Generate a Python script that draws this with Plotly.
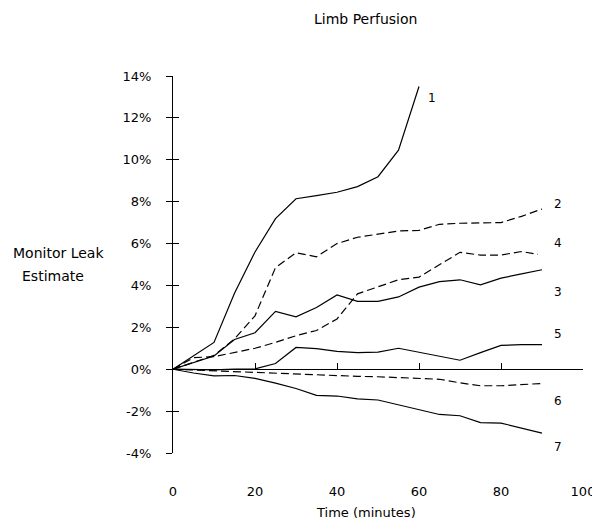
import plotly.graph_objects as go

# ---------------- data ----------------
t_full = [0, 5, 10, 15, 20, 25, 30, 35, 40, 45, 50, 55, 60, 65, 70, 75, 80, 85, 90]
t_s1 = [0, 5, 10, 15, 20, 25, 30, 35, 40, 45, 50, 55, 60]
t_s4 = [0, 5, 10, 15, 20, 25, 30, 35, 40, 45, 50, 55, 60, 65, 70, 75, 80, 85, 89]

s1 = [0, 0.63, 1.28, 3.63, 5.6, 7.19, 8.14, 8.29, 8.45, 8.72, 9.19, 10.46, 13.5]
s2 = [0, 0.33, 0.66, 1.45, 2.55, 4.85, 5.56, 5.37, 6.0, 6.3, 6.45, 6.6, 6.63,
      6.92, 6.97, 6.97, 7.0, 7.3, 7.65]
s3 = [0, 0.32, 0.63, 1.42, 1.74, 2.76, 2.5, 2.95, 3.55, 3.24, 3.24, 3.45, 3.92,
      4.18, 4.27, 4.03, 4.35, 4.55, 4.75]
s4 = [0, 0.55, 0.6, 0.8, 1.0, 1.28, 1.6, 1.85, 2.4, 3.6, 3.95, 4.27, 4.4,
      5.0, 5.58, 5.45, 5.45, 5.62, 5.48]
s5 = [0, -0.03, -0.03, 0, 0.02, 0.27, 1.04, 0.98, 0.85, 0.79, 0.82, 1.0, 0.8,
      0.62, 0.43, 0.79, 1.14, 1.17, 1.17]
s6 = [0, -0.04, -0.08, -0.12, -0.16, -0.2, -0.24, -0.28, -0.32, -0.34, -0.36,
      -0.39, -0.42, -0.48, -0.65, -0.79, -0.79, -0.72, -0.68]
s7 = [0, -0.18, -0.32, -0.3, -0.44, -0.66, -0.92, -1.25, -1.28, -1.42, -1.47,
      -1.7, -1.93, -2.16, -2.22, -2.55, -2.57, -2.8, -3.05]

series_names = ["1", "2", "3", "4", "5", "6", "7"]
series_times = [t_s1, t_full, t_full, t_s4, t_full, t_full, t_full]
series_values = [s1, s2, s3, s4, s5, s6, s7]
series_dashed = [False, True, False, True, False, True, False]

y_tick_vals = [-4, -2, 0, 2, 4, 6, 8, 10, 12, 14]
y_tick_text = ["-4%", "-2%", "0%", "2%", "4%", "6%", "8%", "10%", "12%", "14%"]
x_tick_vals = [0, 20, 40, 60, 80, 100]
x_tick_text = ["0", "20", "40", "60", "80", "100"]

# label placement (layout, not data)
label_pos = {"1": (63.2, 12.95), "2": (93.8, 7.9), "4": (93.8, 6.05),
             "3": (93.8, 3.67), "5": (93.8, 1.67), "6": (93.8, -1.52),
             "7": (93.8, -3.71)}

FONT = "DejaVu Sans"
W, H = 600, 520
OFF = 8  # default page body margin shifts the figure by this much
# plot area in window pixels
PX0, PX1, PY0, PY1 = 173, 583, 76, 453
L, T = PX0 - OFF, PY0 - OFF
R, B = W - (PX1 - OFF), H - (PY1 - OFF)
PW, PH = PX1 - PX0, PY1 - PY0


def px_x(p):
    return (p - PX0) / PW


def px_y(p):
    return (PY1 - p) / PH


fig = go.Figure()
for name, tx, vals, dashed in zip(series_names, series_times, series_values, series_dashed):
    fig.add_trace(go.Scatter(
        x=tx, y=vals, mode="lines", name=name, showlegend=False,
        line=dict(color="black", width=1.2, dash="8px,4px" if dashed else "solid"),
        hoverinfo="skip"))

# invisible trace so the overlay axes get drawn
fig.add_trace(go.Scatter(x=[None], y=[None], xaxis="x2", yaxis="y2",
                         mode="lines", showlegend=False, hoverinfo="skip"))

for name, (lx, ly) in label_pos.items():
    fig.add_annotation(x=lx, y=ly, xref="x", yref="y", text=name, showarrow=False,
                       xanchor="center", yanchor="middle",
                       font=dict(family=FONT, size=12, color="black"))

texts = [("Limb Perfusion", 365, 19, 14),
         ("Time (minutes)", 366, 512, 13),
         ("Monitor Leak", 59, 253, 14),
         ("Estimate", 53, 276, 14)]
for txt, cx, cy, fs in texts:
    fig.add_annotation(x=px_x(cx), y=px_y(cy), xref="paper", yref="paper", text=txt,
                       showarrow=False, xanchor="center", yanchor="middle",
                       font=dict(family=FONT, size=fs, color="black"))

y_range = [-4, 14]
fig.update_layout(
    width=W, height=H,
    margin=dict(l=L, r=R, t=T, b=B),
    paper_bgcolor="white", plot_bgcolor="white",
    font=dict(family=FONT, size=13, color="black"),
    xaxis=dict(range=[0, 100], showline=False, showgrid=False, zeroline=False,
               ticks="", tickvals=x_tick_vals, ticktext=x_tick_text,
               ticklabelstandoff=29, tickfont=dict(family=FONT, size=13)),
    yaxis=dict(range=y_range, showline=True, linecolor="black", linewidth=1,
               showgrid=False, zeroline=False, ticks="outside", ticklen=6,
               tickcolor="black", tickwidth=1, tickvals=y_tick_vals,
               ticktext=y_tick_text, ticklabelstandoff=12,
               tickfont=dict(family=FONT, size=13)),
    xaxis2=dict(range=[0, 100], overlaying="x", anchor="free",
                position=(0 - y_range[0]) / (y_range[1] - y_range[0]),
                showline=True, linecolor="black", linewidth=1, showgrid=False,
                zeroline=False, ticks="inside", ticklen=6, tickcolor="black",
                tickvals=x_tick_vals, showticklabels=False),
    yaxis2=dict(range=y_range, overlaying="y", anchor="x", side="left",
                showline=False, showgrid=False, zeroline=False, ticks="inside",
                ticklen=6, tickcolor="black", tickvals=y_tick_vals,
                showticklabels=False),
)

fig.write_html("out.html")
